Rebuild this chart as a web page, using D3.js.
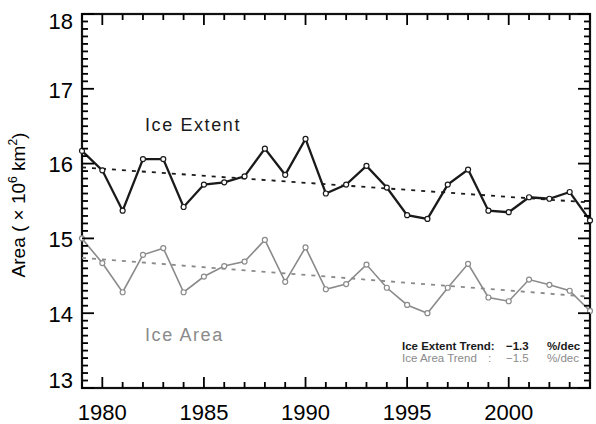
<!DOCTYPE html>
<html>
<head>
  <script src="https://cdn.jsdelivr.net/npm/d3@7"></script>
  <style>
    body { margin: 0; background: #fff; }
    text { font-family: "Liberation Sans", Arial, sans-serif; white-space: pre; }
  </style>
</head>
<body>
  <div id="chart"></div>
<script>
  // data
  const years  = [1979, 1980, 1981, 1982, 1983, 1984, 1985, 1986, 1987, 1988, 1989, 1990, 1991,
                  1992, 1993, 1994, 1995, 1996, 1997, 1998, 1999, 2000, 2001, 2002, 2003, 2004];
  const extent = [16.17, 15.91, 15.37, 16.06, 16.06, 15.42, 15.72, 15.75, 15.83, 16.20, 15.85, 16.33, 15.60,
                  15.72, 15.97, 15.68, 15.31, 15.26, 15.72, 15.92, 15.37, 15.35, 15.55, 15.53, 15.62, 15.24];
  const area   = [15.00, 14.67, 14.28, 14.78, 14.87, 14.28, 14.49, 14.63, 14.69, 14.98, 14.42, 14.88, 14.32,
                  14.39, 14.65, 14.34, 14.11, 14.00, 14.34, 14.66, 14.21, 14.16, 14.45, 14.38, 14.30, 14.03];
  const trendYears  = [1979, 2004];
  const extentTrend = [15.95, 15.48];
  const areaTrend   = [14.74, 14.22];
  const xTicks = [1980, 1985, 1990, 1995, 2000];
  const yTicks = [13, 14, 15, 16, 17, 18];

  const margin = {top: 14, right: 6, bottom: 36, left: 82},
        width = 596 - margin.left - margin.right,
        height = 424 - margin.top - margin.bottom;

  let svg = d3.select("#chart")
    .append("svg")
      .attr("width", 596)
      .attr("height", 424)
    .append("g")
      .attr("transform", "translate(" + margin.left + "," + margin.top + ")");

  let x = d3.scaleLinear().domain([1979, 2004]).range([0, width]);
  let y = d3.scaleLinear().domain([13, 18]).range([height, 0]);

  // frame
  svg.append("rect").attr("width", width).attr("height", height)
    .attr("fill", "none").attr("stroke", "#111").attr("stroke-width", 2.2);

  // tick labels
  svg.selectAll(".xl").data(xTicks).enter().append("text")
    .attr("x", d => x(d)).attr("y", height + 32)
    .attr("text-anchor", "middle").attr("font-size", 22)
    .text(d => d);
  svg.selectAll(".yl").data(yTicks).enter().append("text")
    .attr("x", -9).attr("y", d => y(d))
    .attr("dy", d => d == 18 ? "0.7em" : d == 13 ? "0" : "0.4em")
    .attr("text-anchor", "end").attr("font-size", 22)
    .text(d => d);

  // y axis title
  let title = svg.append("text")
    .attr("transform", "translate(-57," + (height / 2 + 4) + ") rotate(-90)")
    .attr("text-anchor", "middle").attr("font-size", 19);
  title.append("tspan").text("Area ( × 10");
  title.append("tspan").attr("dy", -8).attr("font-size", 12).text("6");
  title.append("tspan").attr("dy", 8).text(" km");
  title.append("tspan").attr("dy", -8).attr("font-size", 12).text("2");
  title.append("tspan").attr("dy", 8).text(")");

  const series = [
    {vals: extent, trend: extentTrend, color: "#1a1a1a", w: 2.3},
    {vals: area, trend: areaTrend, color: "#8a8a8a", w: 1.6}
  ];
  const line = d3.line().x(d => x(d[0])).y(d => y(d[1]));

  series.forEach(s => {
    const pts = years.map((yr, i) => [yr, s.vals[i]]);
    svg.append("path")
      .datum(trendYears.map((yr, i) => [yr, s.trend[i]]))
      .attr("d", line).attr("fill", "none")
      .attr("stroke", s.color).attr("stroke-width", 1.8)
      .attr("stroke-dasharray", "4,6");
    svg.append("path")
      .datum(pts)
      .attr("d", line).attr("fill", "none")
      .attr("stroke", s.color).attr("stroke-width", s.w);
    svg.selectAll(null).data(pts).enter().append("circle")
      .attr("cx", d => x(d[0])).attr("cy", d => y(d[1])).attr("r", 2.5)
      .attr("fill", "#fff").attr("stroke", s.color).attr("stroke-width", 1.2);
  });

  // labels
  svg.append("text").attr("x", x(1982.1)).attr("y", y(16.43))
    .attr("font-size", 18).attr("letter-spacing", 1.6).attr("fill", "#1a1a1a").text("Ice Extent");
  svg.append("text").attr("x", x(1982.1)).attr("y", y(13.63))
    .attr("font-size", 18).attr("letter-spacing", 1.6).attr("fill", "#8a8a8a").text("Ice Area");

  function trendNote(yv, parts, color, weight) {
    let t = svg.append("text").attr("y", y(yv)).attr("font-size", 11.5)
      .attr("font-weight", weight).attr("fill", color);
    parts.forEach(p => t.append("tspan").attr("x", p[0] - margin.left).text(p[1]));
  }
  trendNote(13.51, [[402, "Ice Extent Trend:"], [506, "\u22121.3"], [547, "%/dec"]], "#1a1a1a", "bold");
  trendNote(13.35, [[402, "Ice Area Trend"], [488, ":"], [506, "\u22121.5"], [547, "%/dec"]], "#8a8a8a", "normal");

  // inward tick marks on all four sides, drawn last
  const minorX = x.ticks(25), minorY = y.ticks(50);
  const isMajorX = d => xTicks.includes(d);
  const isMajorY = d => Math.abs(d - Math.round(d)) < 1e-6;
  let ticks = svg.append("g").attr("stroke", "#000").attr("stroke-width", 1.8);
  ticks.selectAll(null).data(minorX).enter().append("line")
    .attr("x1", d => x(d)).attr("x2", d => x(d))
    .attr("y1", height).attr("y2", d => height - (isMajorX(d) ? 11 : 6));
  ticks.selectAll(null).data(minorX).enter().append("line")
    .attr("x1", d => x(d)).attr("x2", d => x(d))
    .attr("y1", 0).attr("y2", d => isMajorX(d) ? 11 : 6);
  ticks.selectAll(null).data(minorY).enter().append("line")
    .attr("y1", d => y(d)).attr("y2", d => y(d))
    .attr("x1", 0).attr("x2", d => isMajorY(d) ? 12 : 6);
  ticks.selectAll(null).data(minorY).enter().append("line")
    .attr("y1", d => y(d)).attr("y2", d => y(d))
    .attr("x1", width).attr("x2", d => width - (isMajorY(d) ? 12 : 6));
</script>
</body>
</html>
